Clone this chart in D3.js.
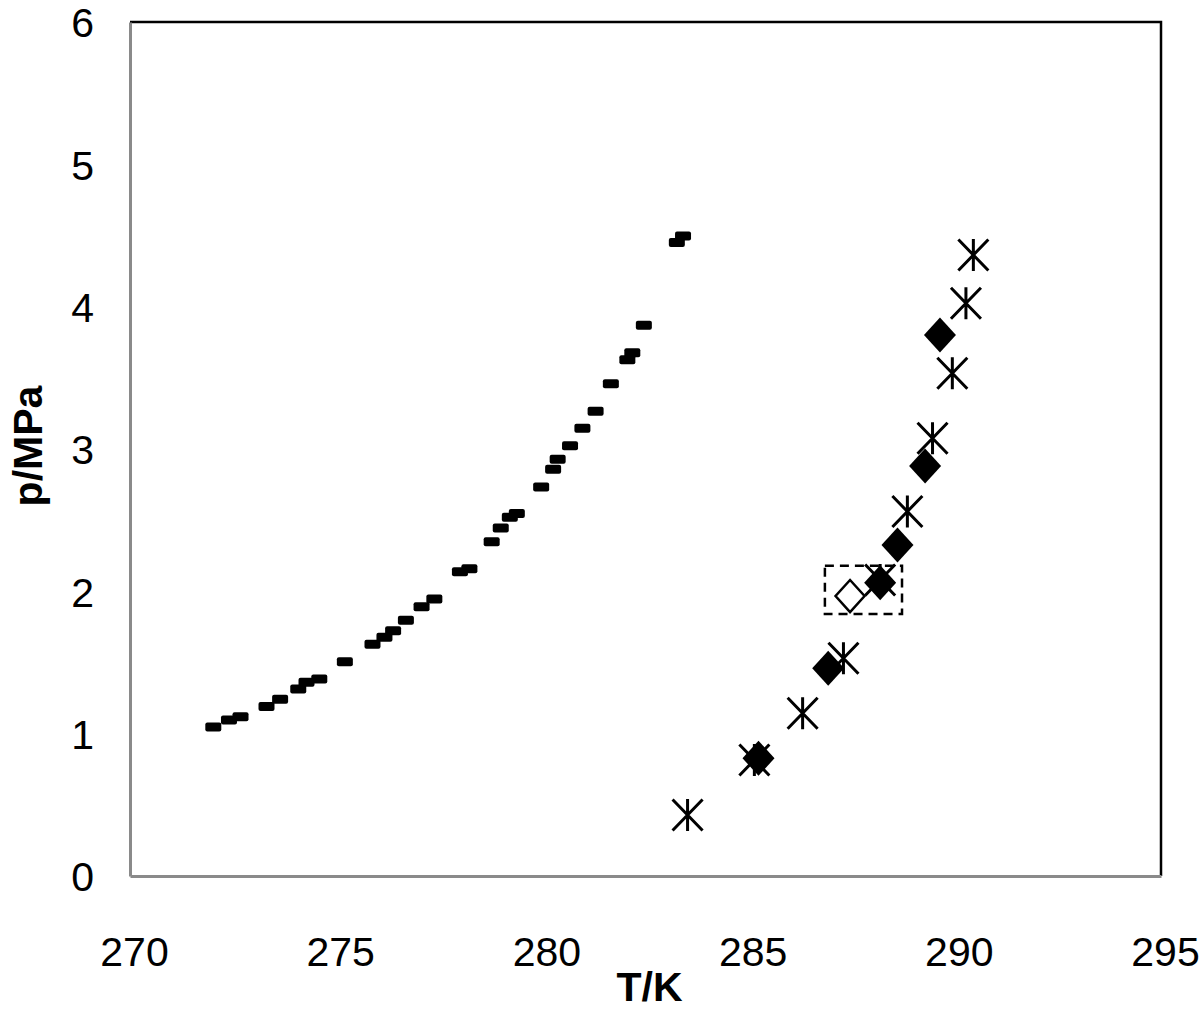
<!DOCTYPE html>
<html>
<head>
<meta charset="utf-8">
<script src="https://cdn.jsdelivr.net/npm/d3@7"></script>
<style>
  body { margin: 0; background: #fff; }
  text { font-family: "Liberation Sans", Arial, sans-serif; }
</style>
</head>
<body>
<div id="chart"></div>
<script>
// equilibrium series (T in K, p in MPa)
const dashT = [272.02, 272.40, 272.68, 273.31, 273.64, 274.08, 274.28, 274.59, 275.21, 275.88,
  276.17, 276.38, 276.69, 277.07, 277.38, 278.00, 278.23, 278.77, 278.99, 279.21, 279.38,
  279.97, 280.26, 280.37, 280.67, 280.97, 281.29, 281.66, 282.06, 282.18, 282.46, 283.26, 283.41];
const dashP = [1.047, 1.096, 1.119, 1.190, 1.242, 1.314, 1.361, 1.384, 1.506, 1.628,
  1.677, 1.723, 1.797, 1.892, 1.946, 2.138, 2.159, 2.349, 2.445, 2.520, 2.546,
  2.733, 2.857, 2.928, 3.023, 3.146, 3.265, 3.459, 3.627, 3.677, 3.869, 4.450, 4.497];

const starT = [283.52, 285.14, 286.31, 287.30, 288.19, 288.85, 289.46, 289.94, 290.27, 290.45];
const starP = [0.429, 0.815, 1.143, 1.530, 2.080, 2.561, 3.075, 3.532, 4.024, 4.363];

const diamondT = [285.24, 286.93, 288.19, 288.61, 289.28, 289.64];
const diamondP = [0.827, 1.459, 2.061, 2.326, 2.881, 3.801];

const openT = [287.46];
const openP = [1.967];

// dashed box around the highlighted points [T0, T1], [p0, p1]
const boxT = [286.85, 288.72];
const boxP = [1.84, 2.18];

const xTicks = [270, 275, 280, 285, 290, 295];
const yTicks = [0, 1, 2, 3, 4, 5, 6];

const width = 1200, height = 1013;
const margin = { top: 22, right: 39, bottom: 137, left: 130 };

const svg = d3.select("#chart").append("svg")
  .attr("width", width)
  .attr("height", height);

const x = d3.scaleLinear().domain([270, 295]).range([margin.left, width - margin.right]);
const y = d3.scaleLinear().domain([0, 6]).range([height - margin.bottom, margin.top]);

const zip = (a, b) => a.map((v, i) => [v, b[i]]);

// top and right frame lines
svg.append("path")
  .attr("d", `M${x(270)},${y(6)}H${x(295)}V${y(0)}`)
  .attr("fill", "none")
  .attr("stroke", "#000")
  .attr("stroke-width", 2.5);

const xAxis = svg.append("g")
  .attr("transform", `translate(0,${y(0)})`)
  .call(d3.axisBottom(x).tickValues(xTicks).tickFormat(d3.format("d"))
    .tickSize(0).tickSizeOuter(0).tickPadding(61));
xAxis.selectAll("text").attr("font-size", 41).attr("dx", 4).attr("fill", "#000");

const yAxis = svg.append("g")
  .attr("transform", `translate(${x(270)},0)`)
  .call(d3.axisLeft(y).tickValues(yTicks).tickFormat(d3.format("d"))
    .tickSize(0).tickSizeOuter(0).tickPadding(36));
yAxis.selectAll("text").attr("font-size", 41).attr("dy", "0.36em").attr("fill", "#000");

svg.selectAll(".domain").attr("stroke", "#8a8a8a").attr("stroke-width", 3);
svg.selectAll(".tick line").remove();

svg.append("text")
  .attr("x", x(282.5) + 4)
  .attr("y", 1001)
  .attr("text-anchor", "middle")
  .attr("font-size", 41)
  .attr("font-weight", "bold")
  .text("T/K");

svg.append("text")
  .attr("transform", `translate(42,${y(3) - 3}) rotate(-90)`)
  .attr("text-anchor", "middle")
  .attr("font-size", 41)
  .attr("font-weight", "bold")
  .text("p/MPa");

// dash markers
svg.append("g").selectAll("rect")
  .data(zip(dashT, dashP))
  .join("rect")
  .attr("x", d => x(d[0]) - 8)
  .attr("y", d => y(d[1]) - 4.5)
  .attr("width", 16)
  .attr("height", 9)
  .attr("rx", 2)
  .attr("fill", "#000");

// asterisks
const star = "M0,-16V16M-15,-15.5L15,15.5M15,-15.5L-15,15.5";
svg.append("g").selectAll("path")
  .data(zip(starT, starP))
  .join("path")
  .attr("transform", d => `translate(${x(d[0])},${y(d[1])})`)
  .attr("d", star)
  .attr("fill", "none")
  .attr("stroke", "#000")
  .attr("stroke-width", 3);

// diamonds
const diamond = "M0,-17.5L16,0L0,17.5L-16,0Z";
svg.append("g").selectAll("path")
  .data(zip(diamondT, diamondP))
  .join("path")
  .attr("transform", d => `translate(${x(d[0])},${y(d[1])})`)
  .attr("d", diamond)
  .attr("fill", "#000");

svg.append("g").selectAll("path")
  .data(zip(openT, openP))
  .join("path")
  .attr("transform", d => `translate(${x(d[0])},${y(d[1])})`)
  .attr("d", "M0,-16L14.5,0L0,16L-14.5,0Z")
  .attr("fill", "#fff")
  .attr("stroke", "#000")
  .attr("stroke-width", 2.5);

// dashed highlight box
svg.append("rect")
  .attr("x", x(boxT[0]))
  .attr("y", y(boxP[1]))
  .attr("width", x(boxT[1]) - x(boxT[0]))
  .attr("height", y(boxP[0]) - y(boxP[1]))
  .attr("fill", "none")
  .attr("stroke", "#000")
  .attr("stroke-width", 2.5)
  .attr("stroke-dasharray", "9,6");
</script>
</body>
</html>
